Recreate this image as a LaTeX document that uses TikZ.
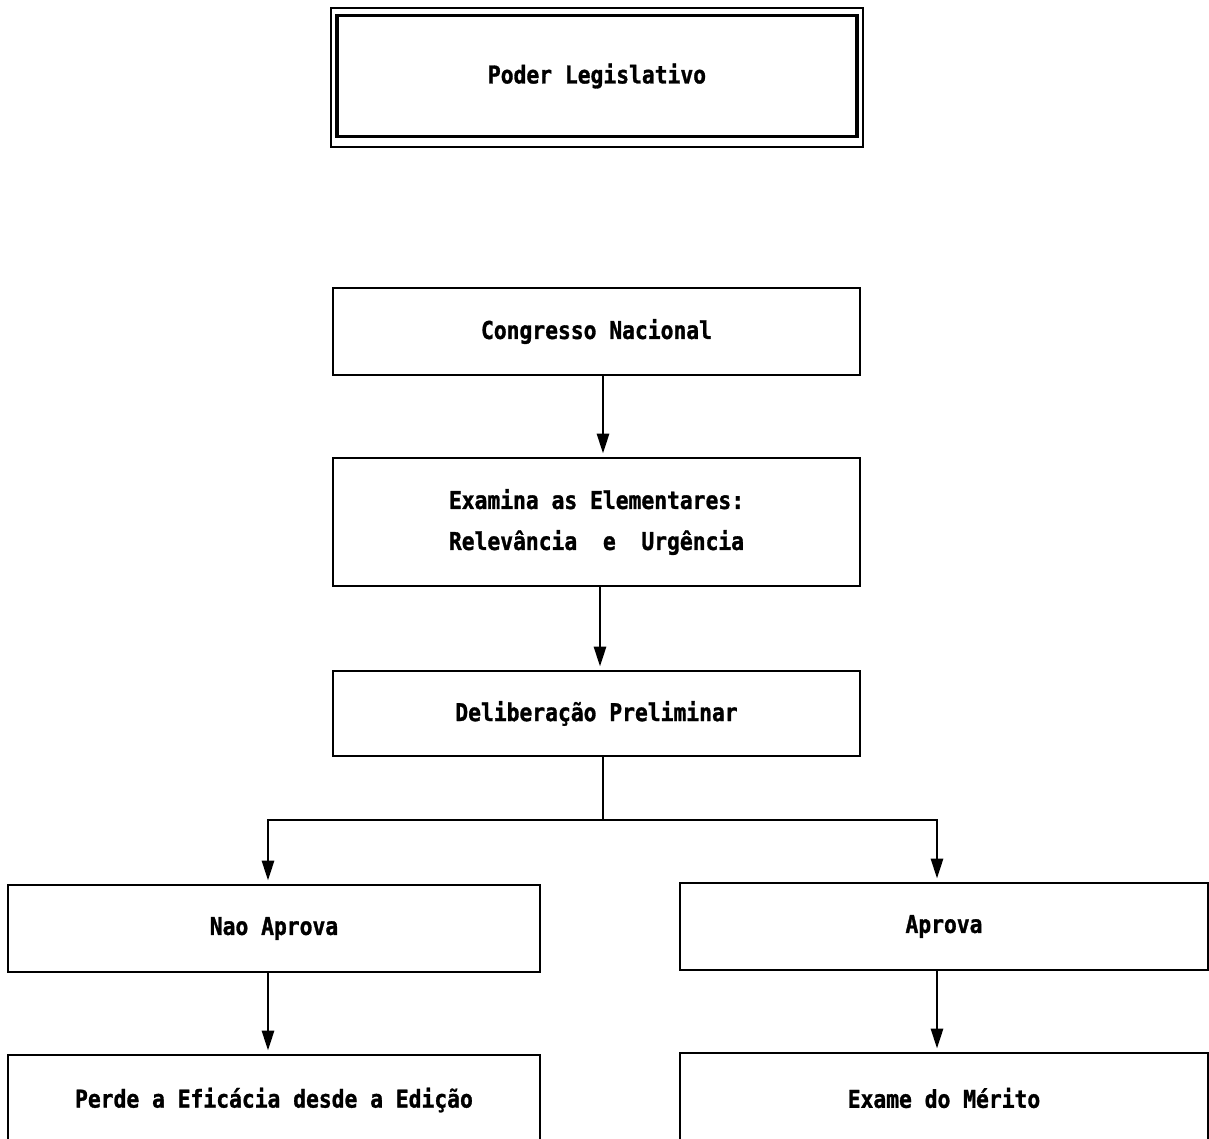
\documentclass[tikz,border=0pt]{standalone}
\usepackage{fontspec}
\newfontfamily\monofnt[FakeStretch=0.87,FakeBold=1.2]{DejaVu Sans Mono}
\usetikzlibrary{arrows.meta}
\begin{document}
\begin{tikzpicture}[x=1pt,y=-1pt,
  box/.style={draw,line width=2.8pt,inner sep=0pt,align=center,
    font=\monofnt\bfseries\fontsize{24.5}{41}\selectfont},
  arr/.style={line width=2.8pt,-{Triangle[width=12pt,length=20pt]},shorten >=3pt},
  ln/.style={line width=2.8pt}]
\useasboundingbox (0,0) rectangle (1209,1139);
\clip (0,0) rectangle (1209,1139);
\node[draw,line width=2.2pt,minimum width=532pt,minimum height=139pt] (outer) at (597,77.5) {};
\node[box,line width=3.2pt,minimum width=520pt,minimum height=121pt] (top) at (597,76) {Poder Legislativo};
\node[box,minimum width=527pt,minimum height=87pt] (cong) at (596.5,331.5) {Congresso Nacional};
\node[box,minimum width=527pt,minimum height=128pt] (exam) at (596.5,522) {Examina as Elementares:\\Relevância~~e~~Urgência};
\node[box,minimum width=527pt,minimum height=85pt] (delib) at (596.5,713.5) {Deliberação Preliminar};
\node[box,minimum width=532pt,minimum height=87pt] (nao) at (274,928.5) {Nao Aprova};
\node[box,minimum width=528pt,minimum height=87pt] (apr) at (944,926.5) {Aprova};
\node[box,minimum width=532pt,minimum height=90pt] (perde) at (274,1100) {Perde a Eficácia desde a Edição};
\node[box,minimum width=528pt,minimum height=90pt] (exame) at (944,1098) {Exame do Mérito};
\coordinate (split) at (603,820);
\draw[arr] ([xshift=6.5pt]cong.south) -- ([xshift=6.5pt]exam.north);
\draw[arr] ([xshift=3.5pt]exam.south) -- ([xshift=3.5pt]delib.north);
\draw[ln] ([xshift=6.5pt]delib.south) -- (split);
\draw[arr] (split) -| ([xshift=-6pt]nao.north);
\draw[arr] (split) -| ([xshift=-7pt]apr.north);
\draw[arr] ([xshift=-6pt]nao.south) -- ([xshift=-6pt]perde.north);
\draw[arr] ([xshift=-7pt]apr.south) -- ([xshift=-7pt]exame.north);
\end{tikzpicture}
\end{document}
